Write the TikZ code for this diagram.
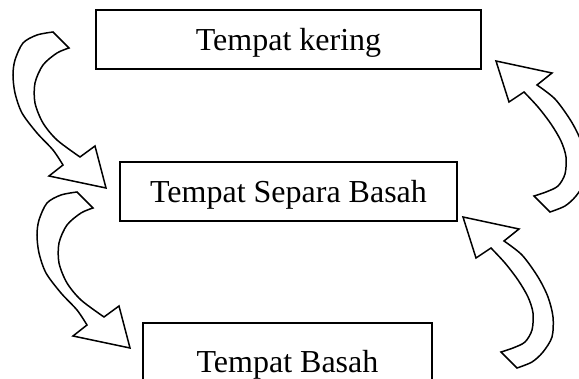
\documentclass[tikz,border=0pt]{standalone}
\usepackage{fontspec}
\setmainfont{Liberation Serif}
\begin{document}
\begin{tikzpicture}[x=1pt,y=-1pt,
  box/.style={draw=black, line width=1.6pt, rectangle, inner sep=0pt,
    text height=22.5pt, text depth=0pt,
    font=\fontsize{32}{38}\selectfont},
  blockarrow/.style={draw=black, line width=1.5pt, fill=white, line join=miter}]
\useasboundingbox (0,0) rectangle (579,379);
\clip (0,0) rectangle (579,379);
\fill[white] (0,0) rectangle (579,379);

% boxes
\node[box, minimum width=385pt, minimum height=59pt] (kering) at (288.5,39.5) {Tempat kering};
\node[box, minimum width=337pt, minimum height=59pt] (separa) at (288.5,191.5) {Tempat Separa Basah};
\node[box, minimum width=289pt, minimum height=77pt] (basah) at (287.5,361.5) {Tempat Basah};

% left curved arrows (pointing down-right)
\foreach \sx/\sy in {0pt/0pt, 24pt/-160pt}{
\begin{scope}[shift={(\sx,\sy)}]
\draw[blockarrow] (53,32) -- plot[smooth] coordinates {(53,32) (37,35) (23,43) (15,60) (13,75) (15,93) (22,113) (37,133) (53,150) (63,165)}
  -- (49,176) -- (106,188) -- (95,146) -- (80,157)
  -- plot[smooth] coordinates {(80,157) (57,140) (43,123) (35,103) (35,83) (43,65) (57,53) (69,48)} -- cycle;
\end{scope}
}

% right curved arrows (pointing up-left)
\foreach \sx/\sy in {0pt/0pt, 33pt/156pt}{
\begin{scope}[shift={(\sx,\sy)}]
\draw[blockarrow] (463,217) -- (519,229) -- (504,241)
  -- plot[smooth] coordinates {(504,241) (522,255) (538,277) (548,297) (553,317) (552,337) (543,352) (532,362) (517,368)}
  -- (501,352)
  -- plot[smooth] coordinates {(501,352) (513,348) (525,342) (532,330) (533,313) (528,297) (518,280) (505,263) (491,248)}
  -- (476,258) -- cycle;
\end{scope}
}
\end{tikzpicture}
\end{document}
